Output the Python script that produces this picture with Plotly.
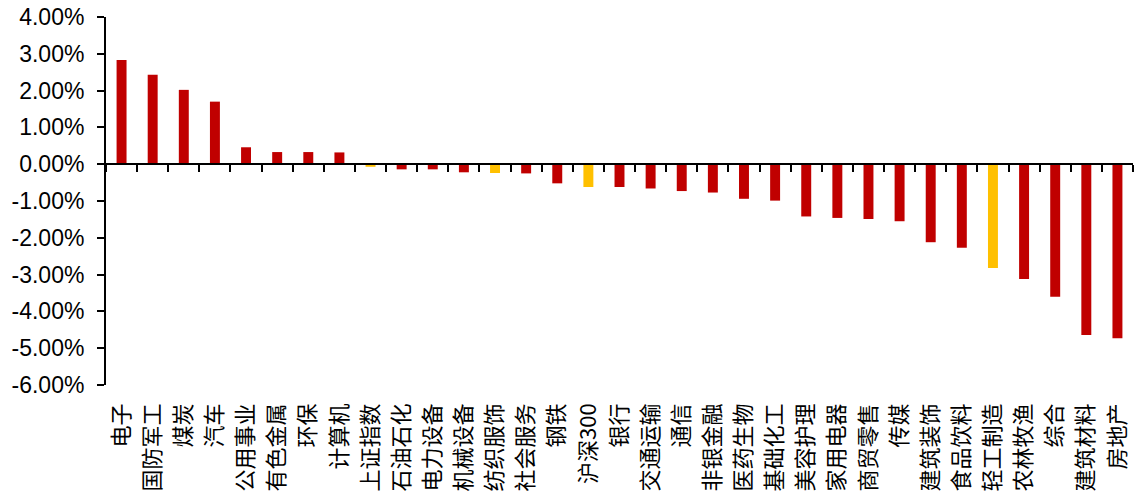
import plotly.graph_objects as go

categories = ["电子", "国防军工", "煤炭", "汽车", "公用事业", "有色金属", "环保", "计算机",
              "上证指数", "石油石化", "电力设备", "机械设备", "纺织服饰", "社会服务", "钢铁",
              "沪深300", "银行", "交通运输", "通信", "非银金融", "医药生物", "基础化工",
              "美容护理", "家用电器", "商贸零售", "传媒", "建筑装饰", "食品饮料", "轻工制造",
              "农林牧渔", "综合", "建筑材料", "房地产"]
values = [2.83, 2.43, 2.02, 1.70, 0.46, 0.33, 0.33, 0.32,
          -0.07, -0.14, -0.14, -0.22, -0.24, -0.25, -0.52,
          -0.62, -0.62, -0.66, -0.73, -0.77, -0.94, -0.99,
          -1.42, -1.46, -1.49, -1.55, -2.12, -2.27, -2.82,
          -3.12, -3.60, -4.64, -4.73]
highlight = ["上证指数", "纺织服饰", "沪深300", "轻工制造"]
y_ticks = [4, 3, 2, 1, 0, -1, -2, -3, -4, -5, -6]

RED = "#C00000"
YELLOW = "#FFC000"
colors = [YELLOW if c in highlight else RED for c in categories]

fig = go.Figure()
fig.add_trace(go.Bar(x=categories, y=values, marker=dict(color=colors, line=dict(width=0)),
                     showlegend=False))
fig.add_trace(go.Scatter(x=categories, y=values, xaxis="x2", yaxis="y", mode="markers",
                         marker=dict(opacity=0), hoverinfo="skip", showlegend=False))

ymin, ymax = -6, 4
xrange = [-0.5, len(categories) - 0.5]
fig.update_layout(
    width=1137, height=498,
    margin=dict(l=106, r=4, t=17, b=113),
    plot_bgcolor="white", paper_bgcolor="white",
    bargap=0.68,
    xaxis=dict(type="category", categoryorder="array", categoryarray=categories,
               range=xrange, autorange=False,
               showline=False, ticks="", showgrid=False, zeroline=False,
               tickangle=-90, automargin=False, ticklabelstandoff=13,
               tickfont=dict(family="Noto Sans CJK SC", size=22, color="black")),
    xaxis2=dict(type="category", overlaying="x", anchor="free",
                categoryorder="array", categoryarray=categories,
                range=xrange, autorange=False,
                position=(0 - ymin) / (ymax - ymin),
                showline=True, linecolor="black", linewidth=2,
                ticks="outside", tickson="boundaries", ticklen=7, tickwidth=2,
                tickcolor="black", showticklabels=False, showgrid=False, zeroline=False),
    yaxis=dict(range=[ymin, ymax], tickmode="array", tickvals=y_ticks,
               ticktext=[f"{v:.2f}%" for v in y_ticks],
               showline=True, linecolor="black", linewidth=2,
               ticks="outside", ticklen=7, tickwidth=2, tickcolor="black",
               showgrid=False, zeroline=False, automargin=False, ticklabelstandoff=8,
               tickfont=dict(family="Liberation Sans, Arial", size=23, color="black")),
)

fig.write_html("out.html", config={"displayModeBar": False},
               post_script="document.body.style.margin='0';")
